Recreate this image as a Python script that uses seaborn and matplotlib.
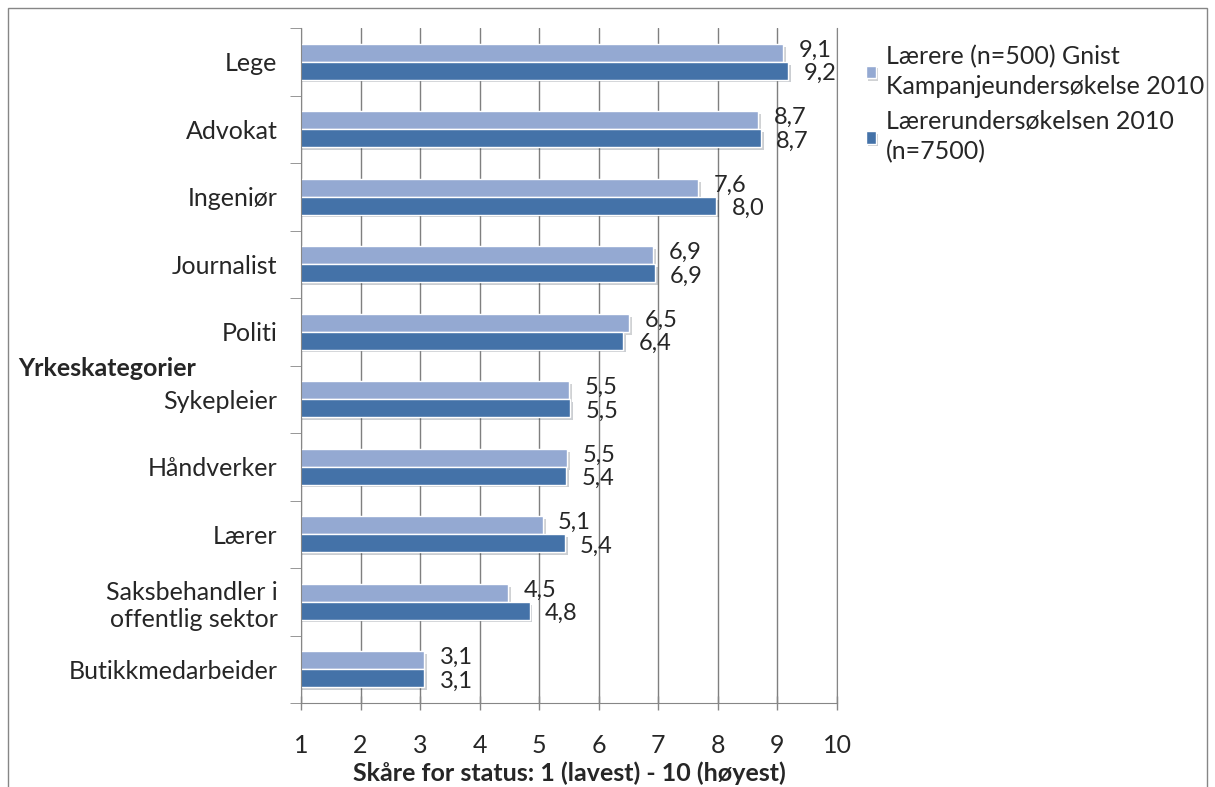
"""
Status scores per occupation, two teacher surveys, as grouped horizontal bars.
"""
import matplotlib
matplotlib.use("Agg")
import matplotlib.pyplot as plt
import matplotlib.patheffects as pe
from matplotlib.patches import Rectangle
import seaborn as sns
import pandas as pd

categories = ["Lege", "Advokat", "Ingeniør", "Journalist", "Politi",
              "Sykepleier", "Håndverker", "Lærer",
              "Saksbehandler i\noffentlig sektor", "Butikkmedarbeider"]
series_names = ["Lærere (n=500) Gnist\nKampanjeundersøkelse 2010",
                "Lærerundersøkelsen 2010\n(n=7500)"]
gnist = [9.1, 8.68, 7.67, 6.91, 6.51, 5.5, 5.47, 5.06, 4.48, 3.07]
laerer = [9.18, 8.72, 7.97, 6.94, 6.41, 5.52, 5.45, 5.43, 4.84, 3.07]
gnist_labels = ["9,1", "8,7", "7,6", "6,9", "6,5", "5,5", "5,5", "5,1", "4,5", "3,1"]
laerer_labels = ["9,2", "8,7", "8,0", "6,9", "6,4", "5,5", "5,4", "5,4", "4,8", "3,1"]
x_ticks = [1, 2, 3, 4, 5, 6, 7, 8, 9, 10]

colors = ["#94a9d2", "#4472a8"]

df = pd.DataFrame({
    "kategori": categories * 2,
    "score": gnist + laerer,
    "serie": [series_names[0]] * len(categories) + [series_names[1]] * len(categories),
})

sns.set_style("white")
plt.rcParams["font.family"] = ["Lato", "DejaVu Sans"]
FS = 18

fig = plt.figure(figsize=(12.15, 7.87), dpi=100)
ax = fig.add_axes([301 / 1215, 1 - 703 / 787, 536 / 1215, 675 / 787])

sns.barplot(data=df, y="kategori", x="score", hue="serie", orient="h",
            palette=colors, saturation=1, width=0.53, ax=ax,
            edgecolor="white", linewidth=1, legend=True)

for bar in ax.patches:
    bar.set_path_effects([pe.SimplePatchShadow(offset=(2, -2), alpha=0.22),
                          pe.Normal()])

# value labels, Norwegian decimal comma; nudge the pair apart a little
for cont, labs, dy in zip(ax.containers, [gnist_labels, laerer_labels], [2, -2]):
    texts = ax.bar_label(cont, labels=labs, padding=11, fontsize=17)
    for t in texts:
        t.xyann = (11, dy)

ax.set_xlim(1, 10)
ax.set_xticks(x_ticks)
ax.set_xticklabels([str(t) for t in x_ticks], fontsize=FS)
ax.tick_params(axis="x", length=10, width=1, color="#868686", direction="inout",
               pad=17, bottom=True)
ax.set_yticks(range(len(categories)))
ax.set_yticklabels(categories, fontsize=FS)
ax.tick_params(axis="y", length=0, pad=17)
ax.set_yticks([i - 0.5 for i in range(len(categories) + 1)], minor=True)
ax.tick_params(axis="y", which="minor", length=8, color="#868686", left=True)
ax.set_ylim(len(categories) - 0.5, -0.5)

ax.grid(axis="x", color="#7f7f7f", linewidth=1)
ax.set_axisbelow(True)
ax.spines["top"].set_visible(False)
for side in ["left", "bottom", "right"]:
    ax.spines[side].set_color("#868686")
ax.set_xlabel("")
ax.set_ylabel("")

handles, labels = ax.get_legend_handles_labels()
ax.get_legend().remove()
leg = fig.legend(handles, labels, loc="upper left",
                 bbox_to_anchor=(843 / 1215, 1 - 22 / 787),
                 frameon=False, fontsize=FS, handlelength=0.4, handleheight=0.4,
                 handletextpad=0.4, labelspacing=0.45)
for t in leg.get_texts():
    t.set_linespacing(1.4)

fig.text(18 / 1215, 1 - 368 / 787, "Yrkeskategorier", fontsize=FS,
         fontweight="bold", va="center", ha="left")
fig.text(569 / 1215, 1 - 773 / 787, "Skåre for status: 1 (lavest) - 10 (høyest)",
         fontsize=FS, fontweight="bold", va="center", ha="center")

fig.patches.append(Rectangle((8 / 1215, -0.01), 1199 / 1215, 1 - 8 / 787 + 0.01,
                             transform=fig.transFigure, fill=False,
                             edgecolor="#868686", linewidth=1))

fig.savefig("out.png", dpi=100, facecolor="white")
